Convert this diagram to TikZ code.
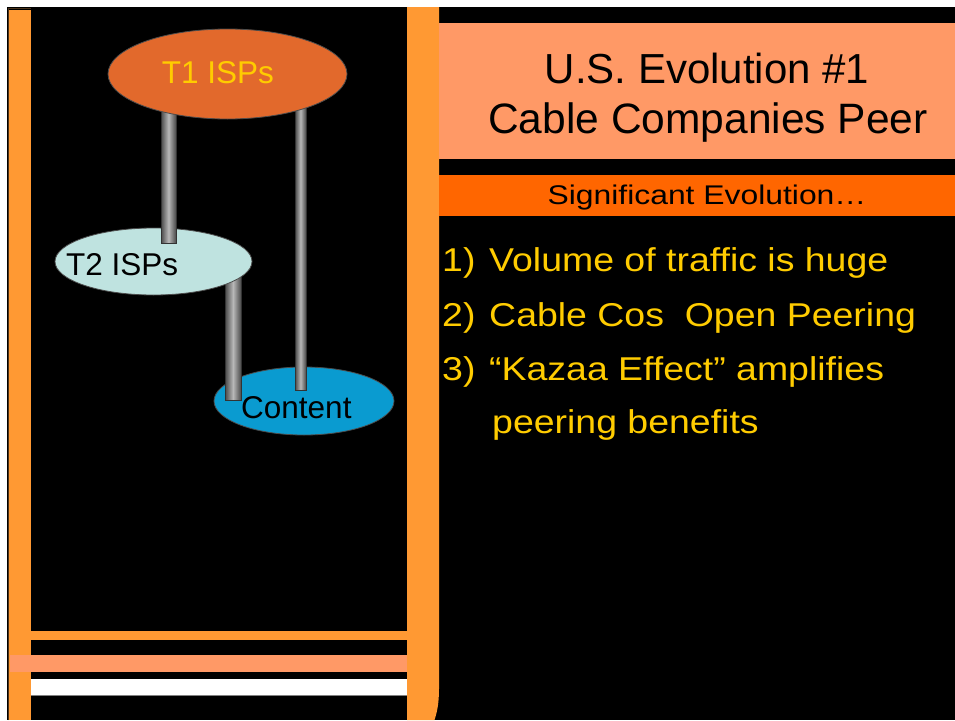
\documentclass[tikz,border=0pt]{standalone}
\usepackage{fontspec}
\setmainfont{Liberation Sans}
\newfontfamily\bodyfont[FakeStretch=1.135]{Liberation Sans}
\newfontfamily\subfont[FakeStretch=1.18]{Liberation Sans}
\usetikzlibrary{shapes.geometric}
\definecolor{barorange}{HTML}{FF9933}
\definecolor{salmon}{HTML}{FF9966}
\definecolor{deeporange}{HTML}{FF6600}
\definecolor{txtyellow}{HTML}{FFCC00}
\definecolor{tonefill}{HTML}{E2692C}
\definecolor{ttwofill}{HTML}{BFE3E0}
\definecolor{contfill}{HTML}{0A9BD0}
\definecolor{poledark}{HTML}{4A4A4A}
\definecolor{polelight}{HTML}{B8B8B8}
\tikzset{
  cloud/.style={ellipse, draw=black!70, line width=0.8pt, inner sep=0pt},
  pole/.style={left color=poledark, right color=poledark, middle color=polelight, draw=black!80, line width=0.4pt},
  lbl/.style={inner sep=0pt, anchor=base, font=\fontsize{31.5}{36}\selectfont},
  bodytxt/.style={inner sep=0pt, anchor=base west, text=txtyellow, font=\bodyfont\fontsize{33}{40}\selectfont},
}
\begin{document}
\begin{tikzpicture}[x=1pt,y=-1pt]
\useasboundingbox (0,0) rectangle (955,720);
\fill[white] (0,0) rectangle (955,720);
\fill[black] (7,7) rectangle (955,720);
% left bar
\fill[barorange] (9,10) rectangle (31,720);
\draw[black!60!brown, line width=0.6pt] (8,720) -- (8,8.5) -- (31,8.5);
% right bar with rounded bottom
\fill[barorange] (407,7) -- (439,7) -- (439,688) .. controls (439,704) and (437,712) .. (434.5,720) -- (407,720) -- cycle;
% bottom stripes
\fill[barorange] (31,631) rectangle (407,640);
\fill[salmon] (10,655) rectangle (407,672);
\fill[white] (31,679) rectangle (407,695);
\draw[gray, line width=0.6pt] (31,695) -- (407,695);
% title boxes
\node[fill=salmon, inner sep=0pt, minimum width=516pt, minimum height=136pt, anchor=north west] (title) at (439,23) {};
\node[inner sep=0pt, anchor=base, font=\fontsize{42}{50}\selectfont] (tl1) at (707,83) {U.S. Evolution \#1};
\node[inner sep=0pt, anchor=base, font=\fontsize{42.5}{50}\selectfont] (tl2) at (708,133) {Cable Companies Peer};
\node[fill=deeporange, inner sep=0pt, minimum width=516pt, minimum height=41pt, anchor=north west] (subbar) at (439,175) {};
\node[inner sep=0pt, anchor=base, font=\subfont\fontsize{27}{32}\selectfont] (sub) at (707,204) {Significant Evolution…};
% body text
\node[bodytxt] (n1) at (442,271) {1)};
\node[bodytxt] (b1) at (489,271) {Volume of traffic is huge};
\node[bodytxt] (n2) at (442,326) {2)};
\node[bodytxt] (b2) at (489,326) {Cable Cos\ \ Open Peering};
\node[bodytxt] (n3) at (442,380) {3)};
\node[bodytxt] (b3) at (489,380) {“Kazaa Effect” amplifies};
\node[bodytxt] (b4) at (492,433) {peering benefits};
% diagram
\node[cloud, fill=contfill, minimum width=180pt, minimum height=68pt] (content) at (304,401) {};
\shade[pole] (295,100) rectangle (306,390);
\shade[pole] (225,270) rectangle (241,400);
\node[cloud, fill=ttwofill, minimum width=197pt, minimum height=67pt] (t2) at (153.5,261.5) {};
\shade[pole] (161,100) rectangle (176,243);
\node[cloud, fill=tonefill, minimum width=239pt, minimum height=90pt] (t1) at (227.5,74) {};
\node[lbl, text=txtyellow] (t1l) at (218,83) {T1 ISPs};
\node[lbl, text=black, anchor=base west] (t2l) at (66,275) {T2 ISPs};
\node[lbl, text=black, anchor=base west] (cl) at (241,418) {Content};
\end{tikzpicture}
\end{document}
